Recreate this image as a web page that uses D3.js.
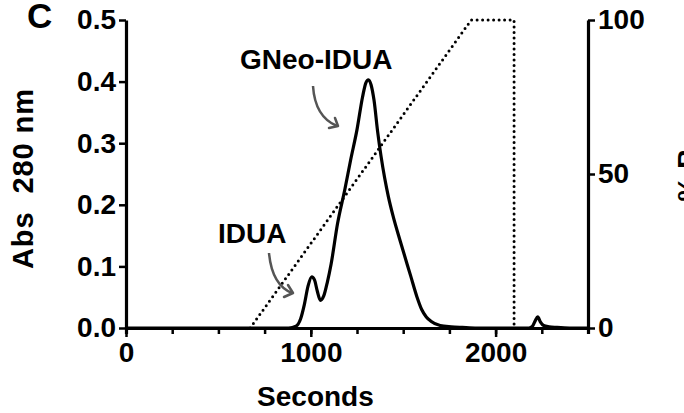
<!DOCTYPE html>
<meta charset="utf-8">
<style>
body { margin: 0; background: #fff; }
text { font-family: "Liberation Sans", Arial, Helvetica, sans-serif; font-weight: bold; fill: #000; }
.axis path, .axis line { stroke: #000; }
</style>
<body>
<script src="https://d3js.org/d3.v7.min.js"></script>
<script>

// absorbance trace (seconds, Abs 280 nm)
var absTime = [0, 600, 880, 920, 945, 965, 985, 1005, 1020, 1035, 1052, 1070, 1090, 1110, 1145, 1185, 1215, 1250, 1280, 1298, 1312, 1326, 1342, 1362, 1380, 1400, 1420, 1445, 1485, 1540, 1575, 1600, 1625, 1650, 1700, 1760, 1820, 1900, 2180, 2200, 2215, 2228, 2242, 2260, 2290, 2330, 2400, 2500];
var absValue = [0, 0, 0, 0.003, 0.015, 0.038, 0.068, 0.083, 0.078, 0.06, 0.045, 0.052, 0.075, 0.104, 0.17, 0.226, 0.272, 0.322, 0.375, 0.398, 0.403, 0.395, 0.37, 0.318, 0.279, 0.243, 0.213, 0.182, 0.14, 0.085, 0.05, 0.03, 0.018, 0.011, 0.004, 0.002, 0.001, 0, 0, 0.003, 0.012, 0.018, 0.01, 0.004, 0.002, 0.001, 0, 0];

// gradient (% B)
var gradTime = [672, 1868, 2100, 2100];
var gradPct = [0, 100, 100, 0];

var xTicks = [0, 1000, 2000];
var xMinorTicks = [0, 250, 500, 750, 1000, 1250, 1500, 1750, 2000, 2250, 2500];
var yLeftTicks = [0, 0.1, 0.2, 0.3, 0.4, 0.5];
var yRightTicks = [0, 50, 100];

var w = 684, h = 413;
var margin = {top: 20, right: 96, bottom: 85, left: 126};
var width = w - margin.left - margin.right,
    height = h - margin.top - margin.bottom;

var svg = d3.select("body").append("svg")
    .attr("width", w)
    .attr("height", h);

var g = svg.append("g")
    .attr("transform", "translate(" + margin.left + "," + margin.top + ")");

var x = d3.scaleLinear().domain([0, 2500]).range([0, 462]);
var y = d3.scaleLinear().domain([0, 0.5]).range([height, 0]);
var y2 = d3.scaleLinear().domain([0, 100]).range([height, 0]);

// gradient dotted line
var gradLine = d3.line()
    .x(function(d, i) { return x(gradTime[i]); })
    .y(function(d, i) { return y2(gradPct[i]); });

g.append("path")
    .attr("d", gradLine(gradTime))
    .attr("fill", "none")
    .attr("stroke", "#000")
    .attr("stroke-width", 3)
    .attr("stroke-linecap", "round")
    .attr("stroke-dasharray", "0 5.5");

// absorbance
var absLine = d3.line()
    .curve(d3.curveMonotoneX)
    .x(function(d, i) { return x(absTime[i]); })
    .y(function(d, i) { return y(absValue[i]); });

g.append("path")
    .attr("d", absLine(absTime))
    .attr("fill", "none")
    .attr("stroke", "#000")
    .attr("stroke-width", 3.2)
    .attr("stroke-linejoin", "round");

// x axis, minor ticks
var xAxisMinor = g.append("g")
    .attr("class", "axis")
    .attr("transform", "translate(0," + height + ")")
    .call(d3.axisBottom(x).tickValues(xMinorTicks).tickSize(6).tickFormat(""));
xAxisMinor.select(".domain").attr("stroke-width", 3.2);
xAxisMinor.selectAll("line").attr("stroke-width", 2.5);

var xAxis = g.append("g")
    .attr("class", "axis")
    .attr("transform", "translate(0," + height + ")")
    .call(d3.axisBottom(x).tickValues(xTicks).tickSize(9).tickPadding(5).tickFormat(d3.format("d")));
xAxis.select(".domain").remove();
xAxis.selectAll("line").attr("stroke-width", 2.5);
xAxis.selectAll("text").style("font-size", "28px").attr("dy", "0.72em");

// left y axis
var yAxis = g.append("g")
    .attr("class", "axis")
    .call(d3.axisLeft(y).tickValues(yLeftTicks).tickSize(7).tickPadding(3).tickSizeOuter(0).tickFormat(d3.format(".1f")));
yAxis.select(".domain").attr("stroke-width", 3.2);
yAxis.selectAll("line").attr("stroke-width", 2.5);
yAxis.selectAll("text").style("font-size", "28px");

// right y axis
var yAxis2 = g.append("g")
    .attr("class", "axis")
    .attr("transform", "translate(" + x(2500) + ",0)")
    .call(d3.axisRight(y2).tickValues(yRightTicks).tickSize(7).tickPadding(3).tickSizeOuter(0));
yAxis2.select(".domain").attr("stroke-width", 3.2);
yAxis2.selectAll("line").attr("stroke-width", 2.5);
yAxis2.selectAll("text").style("font-size", "28px");

// axis titles
svg.append("text")
    .attr("transform", "translate(33,179) rotate(-90)")
    .attr("text-anchor", "middle")
    .attr("textLength", 180)
    .attr("lengthAdjust", "spacing")
    .style("font-size", "29px")
    .style("white-space", "pre")
    .text("Abs  280 nm");

svg.append("text")
    .attr("x", margin.left + x(1025))
    .attr("y", 406)
    .attr("text-anchor", "middle")
    .style("font-size", "28px")
    .text("Seconds");

svg.append("text")
    .attr("transform", "translate(697,175) rotate(-90)")
    .attr("text-anchor", "middle")
    .style("font-size", "28px")
    .text("% B");

// panel letter
svg.append("text")
    .attr("x", 27)
    .attr("y", 28)
    .style("font-size", "35px")
    .text("C");

// annotations
svg.append("text")
    .attr("x", 240)
    .attr("y", 69)
    .style("font-size", "28px")
    .text("GNeo-IDUA");

svg.append("text")
    .attr("x", 218)
    .attr("y", 243)
    .style("font-size", "28px")
    .text("IDUA");

var arrows = [
    {path: "M313,86 Q315,117 337,126", head: "M329,128 L338,126 L335,118"},
    {path: "M269,253 Q272,285 292,293", head: "M284,297 L293,293 L288,285"}
];
arrows.forEach(function(a) {
    svg.append("path").attr("d", a.path)
        .attr("fill", "none").attr("stroke", "#555").attr("stroke-width", 2.5);
    svg.append("path").attr("d", a.head)
        .attr("fill", "none").attr("stroke", "#555").attr("stroke-width", 2.5)
        .attr("stroke-linecap", "round").attr("stroke-linejoin", "round");
});

</script>
</body>
